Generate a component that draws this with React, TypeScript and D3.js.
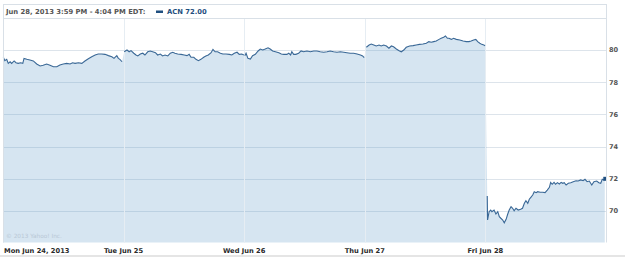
import React from "react";
import * as d3 from "d3";

// Trading days and x-axis labels
const dayLabels = ["Mon Jun 24, 2013", "Tue Jun 25", "Wed Jun 26", "Thu Jun 27", "Fri Jun 28"];
const yTicks = [70, 72, 74, 76, 78, 80];

// [minutes since open, price] per day
const monData: [number, number][] = [
  [1, 79.55], [6, 79.34], [12, 79.42], [17, 79.17], [23, 79.27], [28, 79.17], [36, 79.32], [42, 79.21],
  [49, 79.17], [57, 79.21], [64, 79.17], [68, 79.48], [77, 79.42], [87, 79.38], [98, 79.32], [109, 79.13],
  [120, 79.01], [130, 79.05], [141, 79.13], [152, 79.05], [163, 78.96], [174, 78.96], [184, 79.07], [195, 79.13],
  [206, 79.17], [217, 79.13], [225, 79.21], [233, 79.17], [244, 79.21], [255, 79.17], [265, 79.32], [276, 79.46],
  [287, 79.58], [298, 79.69], [308, 79.75], [319, 79.75], [330, 79.73], [341, 79.65], [352, 79.58], [359, 79.48],
  [368, 79.65], [373, 79.48], [378, 79.42], [385, 79.27],
];
const tueData: [number, number][] = [
  [2, 79.89], [11, 80.0], [18, 79.89], [24, 79.96], [33, 79.8], [40, 79.69], [46, 79.63], [54, 79.75],
  [62, 79.8], [69, 79.69], [78, 79.89], [86, 79.94], [94, 79.89], [103, 79.83], [110, 79.69], [119, 79.75],
  [126, 79.63], [134, 79.69], [143, 79.63], [151, 79.8], [159, 79.86], [166, 79.8], [175, 79.75], [186, 79.73],
  [196, 79.69], [205, 79.65], [212, 79.73], [218, 79.55], [227, 79.55], [234, 79.42], [242, 79.34], [250, 79.42],
  [259, 79.55], [266, 79.63], [274, 79.69], [283, 79.83], [289, 80.04], [296, 79.89], [304, 79.89], [313, 79.8],
  [321, 79.75], [331, 79.75], [342, 79.73], [350, 79.69], [358, 79.8], [367, 79.86], [374, 79.73], [382, 79.75],
  [389, 79.69],
];
const wedData: [number, number][] = [
  [2, 79.65], [6, 79.8], [12, 79.48], [20, 79.44], [27, 79.65], [36, 79.73], [45, 79.94], [52, 80.06],
  [60, 80.0], [68, 80.06], [77, 80.14], [84, 80.06], [92, 79.94], [101, 79.89], [112, 79.83], [120, 79.75],
  [128, 79.73], [138, 79.73], [144, 79.8], [150, 79.69], [154, 79.89], [160, 79.73], [167, 79.73], [176, 79.8],
  [184, 79.94], [192, 79.89], [203, 79.94], [214, 79.89], [225, 79.94], [235, 79.94], [246, 79.89], [257, 79.86],
  [268, 79.89], [278, 79.94], [289, 79.89], [300, 79.86], [311, 79.89], [322, 79.86], [332, 79.83], [343, 79.8],
  [354, 79.8], [365, 79.75], [376, 79.69], [383, 79.63], [388, 79.52],
];
const thuData: [number, number][] = [
  [5, 80.17], [14, 80.31], [21, 80.37], [29, 80.31], [37, 80.25], [46, 80.31], [53, 80.25], [61, 80.31],
  [70, 80.25], [78, 80.11], [86, 80.25], [93, 80.2], [102, 80.06], [111, 79.96], [118, 79.89], [126, 80.0],
  [134, 80.17], [145, 80.25], [156, 80.27], [166, 80.31], [177, 80.35], [188, 80.37], [199, 80.42], [207, 80.52],
  [215, 80.48], [223, 80.52], [231, 80.56], [240, 80.66], [247, 80.73], [255, 80.79], [261, 80.87], [267, 80.73],
  [272, 80.73], [280, 80.66], [287, 80.73], [296, 80.66], [307, 80.62], [318, 80.56], [328, 80.52], [337, 80.52],
  [344, 80.56], [352, 80.62], [359, 80.66], [365, 80.52], [372, 80.42], [378, 80.35], [385, 80.31], [389, 80.27],
];
const friData: [number, number][] = [
  [6, 70.93], [7, 69.44], [12, 69.96], [17, 70.06], [21, 69.96], [28, 70.06], [34, 69.81], [40, 69.96],
  [45, 69.65], [50, 69.55], [56, 69.44], [61, 69.27], [67, 69.48], [72, 69.8], [77, 70.06], [83, 70.27],
  [88, 70.17], [93, 70.02], [99, 70.17], [106, 70.06], [114, 70.11], [120, 70.17], [126, 70.48], [131, 70.64],
  [137, 70.48], [142, 70.73], [147, 70.85], [153, 70.99], [158, 71.2], [164, 71.14], [169, 71.2], [177, 71.16],
  [185, 71.16], [193, 71.14], [200, 71.3], [207, 71.47], [211, 71.78], [216, 71.66], [222, 71.78], [227, 71.66],
  [233, 71.76], [239, 71.68], [245, 71.78], [250, 71.72], [255, 71.76], [261, 71.61], [268, 71.72], [276, 71.76],
  [284, 71.82], [293, 71.88], [300, 71.86], [308, 71.93], [316, 71.88], [322, 71.97], [329, 71.82], [336, 71.86],
  [344, 71.61], [351, 71.82], [360, 71.86], [367, 71.76], [373, 71.72], [378, 71.97], [383, 71.93], [386, 72.0],
];
const days = [monData, tueData, wedData, thuData, friData];

const W = 625;
const H = 257;
const MIN_PER_DAY = 390;
const FONT = "'DejaVu Sans', Verdana, sans-serif";

export default function App() {
  const left = 3;
  const right = 606;
  const top = 18;
  const bottom = 242.5;

  const x = d3.scaleLinear().domain([0, MIN_PER_DAY * days.length]).range([left, right]);
  const y = d3.scaleLinear().domain([70, 80]).range([211, 50]);

  const line = d3
    .line<[number, number]>()
    .x((d) => x(d[0]))
    .y((d) => y(d[1]));

  const series = days.map((pts, i) => pts.map((p) => [i * MIN_PER_DAY + p[0], p[1]] as [number, number]));
  const all = series.flat();

  const area = d3
    .area<[number, number]>()
    .x((d) => x(d[0]))
    .y0(bottom)
    .y1((d) => y(d[1]));

  // extend fill to the left edge
  const fillPts: [number, number][] = [[0, all[0][1]], ...all];

  const last = all[all.length - 1];

  return (
    <svg
      width={W}
      height={H}
      style={{ position: "absolute", left: 0, top: 0, background: "#fff" }}
      fontFamily={FONT}
    >
      {/* horizontal gridlines (under fill) */}
      {yTicks.map((t) => (
        <line key={"h" + t} x1={left} x2={right} y1={Math.round(y(t)) + 0.5} y2={Math.round(y(t)) + 0.5} stroke="#dde4eb" />
      ))}
      {/* fill */}
      <path d={area(fillPts) || ""} fill="#5a96c8" fillOpacity={0.25} />
      {/* vertical day gridlines */}
      {dayLabels.map((_, i) =>
        i === 0 ? null : (
          <line
            key={"v" + i}
            x1={Math.round(x(i * MIN_PER_DAY)) + 0.5}
            x2={Math.round(x(i * MIN_PER_DAY)) + 0.5}
            y1={top}
            y2={bottom}
            stroke="#e6edf3"
          />
        )
      )}
      {/* price line, one segment per day */}
      {series.map((s, i) => (
        <path key={"l" + i} d={line(s) || ""} fill="none" stroke="#3a6896" strokeWidth={1.1} />
      ))}
      <rect x={x(last[0]) - 1.5} y={y(last[1]) - 2} width={3} height={4} fill="#1f4f80" />

      {/* frame */}
      <rect x={left + 0.5} y={4.5} width={right - left} height={top - 4} fill="none" stroke="#d9e0e7" />
      <line x1={left + 0.5} x2={left + 0.5} y1={top} y2={bottom} stroke="#d9e0e7" />
      <line x1={right + 0.5} x2={right + 0.5} y1={top} y2={bottom} stroke="#d9e0e7" />
      <line x1={0} x2={W} y1={256} y2={256} stroke="#dcdcdc" strokeWidth={1.5} />

      {/* header */}
      <text x={6} y={14} fontSize={6.8} fontWeight="bold" fill="#555">
        Jun 28, 2013 3:59 PM - 4:04 PM EDT:
      </text>
      <rect x={156} y={10.5} width={7} height={2.5} fill="#1f4f80" />
      <text x={167} y={14} fontSize={6.8} fontWeight="bold" fill="#1f4f80">
        ACN 72.00
      </text>

      {/* copyright */}
      <text x={6} y={237.5} fontSize={5.8} fill="#b9c8d6">
        © 2013 Yahoo! Inc.
      </text>

      {/* y tick labels */}
      {yTicks.map((t) => (
        <text key={"yt" + t} x={609} y={y(t) + 2.3} fontSize={6.6} fontWeight="bold" fill="#555">
          {t}
        </text>
      ))}

      {/* x labels */}
      {dayLabels.map((lab, i) => (
        <text
          key={"xl" + i}
          x={i === 0 ? 4 : x(i * MIN_PER_DAY)}
          y={253}
          fontSize={6.7}
          fontWeight="bold"
          fill="#2a2a2a"
          textAnchor={i === 0 ? "start" : "middle"}
        >
          {lab}
        </text>
      ))}
    </svg>
  );
}
